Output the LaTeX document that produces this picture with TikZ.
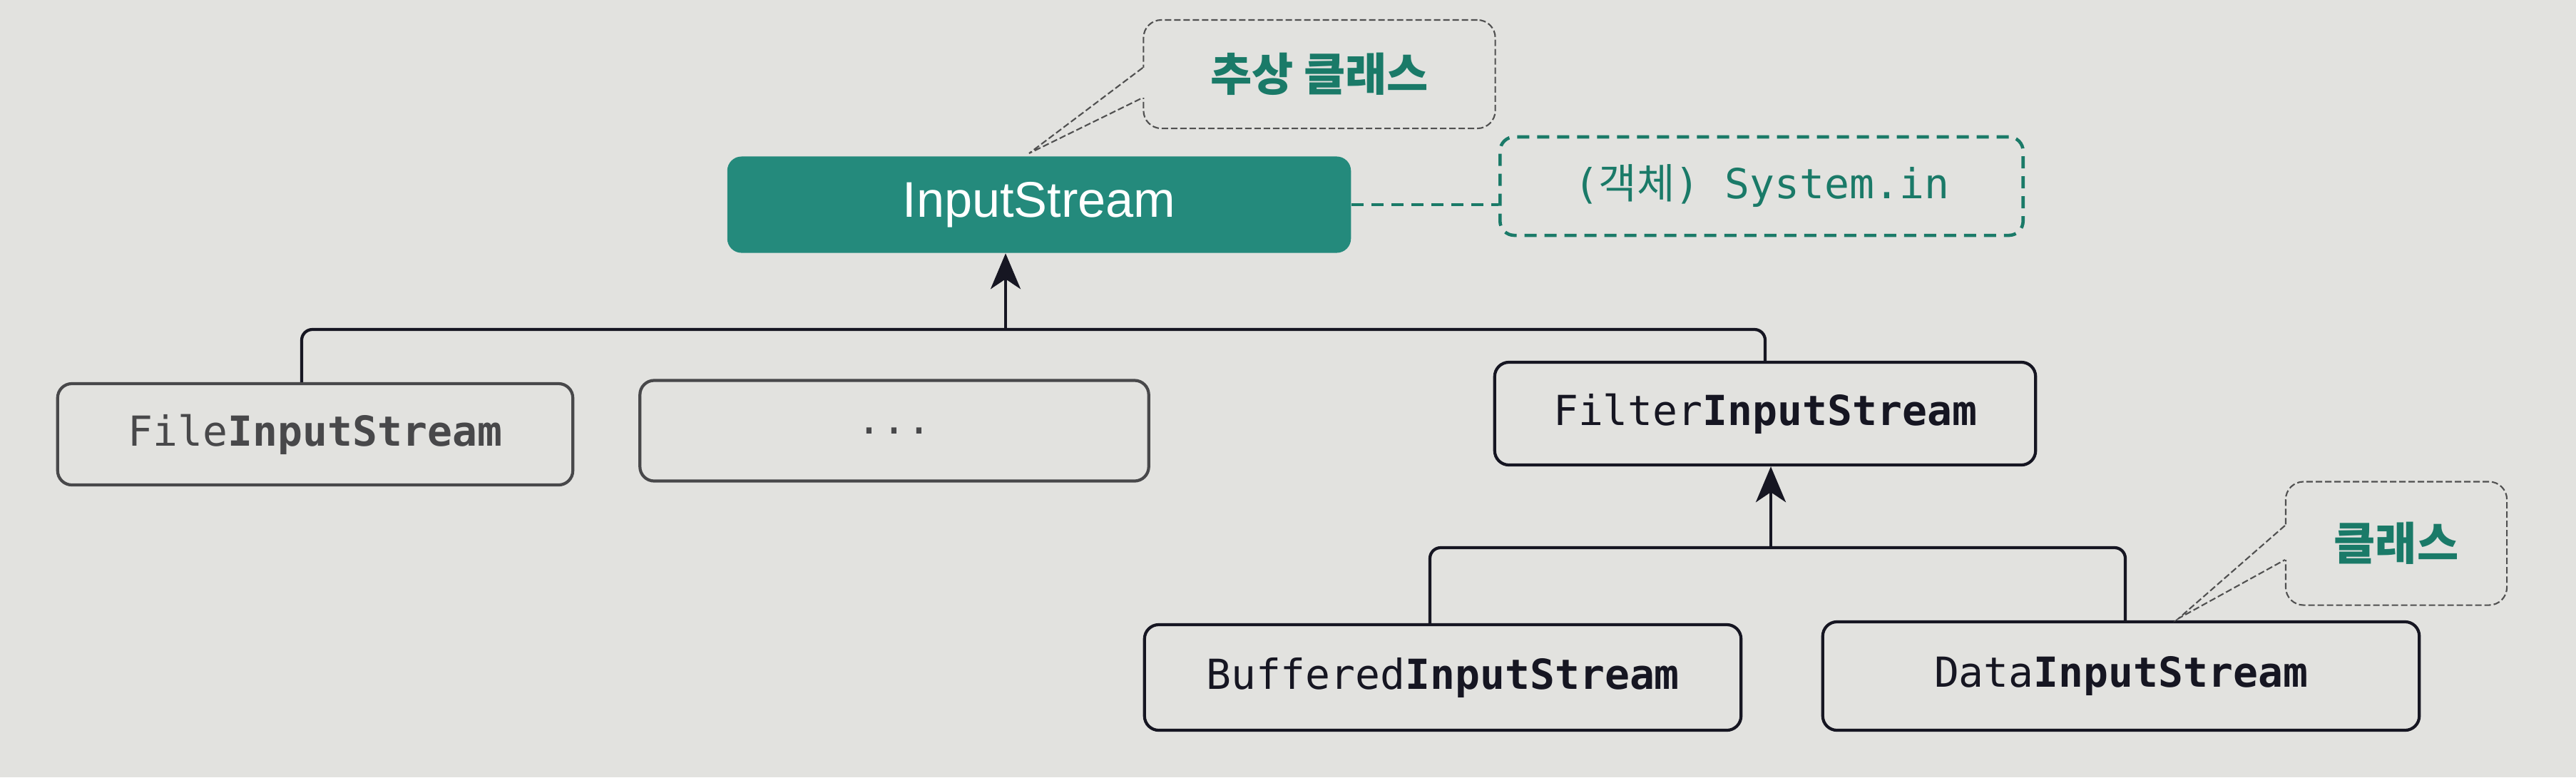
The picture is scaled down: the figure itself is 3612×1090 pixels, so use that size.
\documentclass[tikz,border=0pt]{standalone}
\usepackage{fontspec}
\setmainfont{Liberation Sans}
\newfontfamily\monof{DejaVu Sans Mono}
\newfontfamily\krf{Noto Sans CJK KR}
\usetikzlibrary{arrows.meta,calc}
\definecolor{bg}{RGB}{226,226,223}
\definecolor{tealfill}{RGB}{36,138,124}
\definecolor{tealtxt}{RGB}{26,122,104}
\definecolor{ink}{RGB}{22,22,34}
\definecolor{fade}{RGB}{72,72,74}
\definecolor{callgray}{RGB}{80,80,80}
\begin{document}
\begin{tikzpicture}[x=0.01cm,y=-0.01cm,
  cls/.style={draw=ink, line width=1.2pt, rounded corners=0.2cm, inner sep=0pt,
    font=\monof\fontsize{16.5}{20}\selectfont, text=ink},
  fadecls/.style={cls, draw=fade, text=fade},
  conn/.style={draw=ink, line width=1.2pt, rounded corners=0.15cm},
  uparrow/.style={-{Stealth[length=0.5cm,width=0.42cm,inset=0.14cm]}},
  callbox/.style={draw=callgray, line width=0.6pt, dash pattern=on 0.09cm off 0.04cm,
    rounded corners=0.25cm, inner sep=0pt, text=tealtxt,
    font=\krf\bfseries\fontsize{18}{22}\selectfont},
  callline/.style={draw=callgray, line width=0.6pt, dash pattern=on 0.09cm off 0.04cm},
  tealdash/.style={draw=tealtxt, line width=1.3pt, dash pattern=on 0.17cm off 0.11cm},
]
% background
\fill[bg] (0,0) rectangle (3612,1090);

% nodes
\node[fill=tealfill, rounded corners=0.2cm, inner sep=0pt, minimum width=8.74cm,
  minimum height=1.35cm, text=white, font=\fontsize{20}{24}\selectfont]
  (is) at (1457,287) {InputStream};
\node[cls, tealdash, text=tealtxt, rounded corners=0.2cm, minimum width=7.33cm,
  minimum height=1.38cm] (sys) at (2470,261) {({\krf 객체}) System.in};

\node[fadecls, minimum width=7.22cm, minimum height=1.42cm] (fis) at (442,609)
  {File\textbf{InputStream}};
\node[fadecls, minimum width=7.13cm, minimum height=1.41cm] (dots) at (1254,604) {...};
\node[cls, minimum width=7.58cm, minimum height=1.44cm] (fil) at (2475,580)
  {Filter\textbf{InputStream}};
\node[cls, minimum width=8.36cm, minimum height=1.48cm] (bis) at (2023,950)
  {Buffered\textbf{InputStream}};
\node[cls, minimum width=8.36cm, minimum height=1.52cm] (dis) at (2974,948)
  {Data\textbf{InputStream}};

% callouts
\node[callbox, minimum width=4.93cm, minimum height=1.52cm] (c1) at (1850,104) {추상 클래스};
\node[callbox, minimum width=3.10cm, minimum height=1.73cm] (c2) at (3360,762) {클래스};
\coordinate (t1) at (1443,215);
\coordinate (t2) at (3055,867);
\fill[bg] ($(c1.west)+(-3,-9)$) rectangle ($(c1.west)+(3,33)$);
\draw[callline] ($(c1.west)+(0,-9)$) -- (t1) -- ($(c1.west)+(0,33)$);
\fill[bg] ($(c2.west)+(-3,-25)$) rectangle ($(c2.west)+(3,23)$);
\draw[callline] ($(c2.west)+(0,-25)$) -- (t2) -- ($(c2.west)+(0,23)$);

% connectors
\draw[tealdash] (is.east) -- (is.east -| sys.west);

\coordinate (b1) at (423,462);
\coordinate (j1) at (1410,462);
\draw[conn] (b1 |- fis.north) -- (b1) -- (b1 -| fil.north) -- (fil.north);
\draw[conn, uparrow] (j1) -- (j1 |- is.south);

\coordinate (b2) at (2005,768);
\coordinate (b3) at (2980,768);
\coordinate (j2) at (2483,768);
\draw[conn] (b2 |- bis.north) -- (b2) -- (b3) -- (b3 |- dis.north);
\draw[conn, uparrow] (j2) -- (j2 |- fil.south);
\end{tikzpicture}
\end{document}
